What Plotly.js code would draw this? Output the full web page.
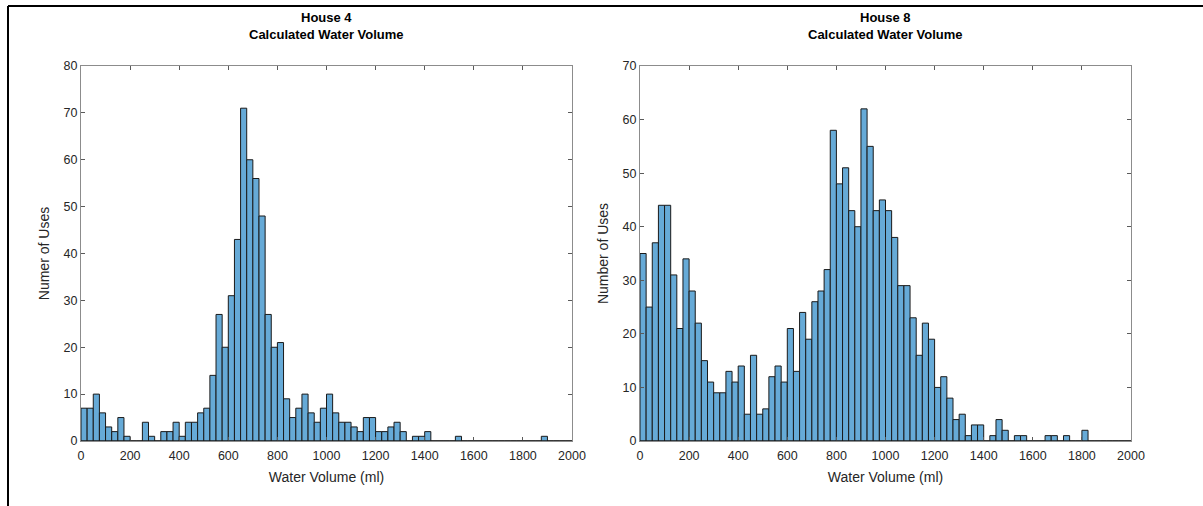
<!DOCTYPE html>
<html>
<head>
<meta charset="utf-8">
<script src="https://cdn.plot.ly/plotly-3.0.1.min.js"></script>
<style>html,body{margin:0;padding:0;background:#fff;}#chart{width:1203px;height:506px;}</style>
</head>
<body>
<div id="chart"></div>
<script>
// Histogram bin counts, 80 bins of 25 ml from 0 to 2000 ml
const binWidth = 25;
const house4Counts = [7,7,10,6,3,2,5,1,0,0, 4,1,0,2,2,4,1,4,4,6, 7,14,27,20,31,43,71,60,56,48,
  27,20,21,9,5,7,10,6,4,7, 10,6,4,4,3,2,5,5,2,2, 3,4,2,0,1,1,2,0,0,0, 0,1,0,0,0,0,0,0,0,0,
  0,0,0,0,0,1,0,0,0,0];
const house8Counts = [35,25,37,44,44,31,21,34,28,22, 15,11,9,9,13,11,14,5,16,5, 6,12,14,11,21,13,24,19,26,28,
  32,58,48,51,43,40,62,55,43,45, 43,38,29,29,23,16,22,19,10,12, 8,4,5,1,3,3,0,1,4,2,
  0,1,1,0,0,0,1,1,0,1, 0,0,2,0,0,0,0,0,0,0];
const panelTitles = ["House 4<br>Calculated Water Volume", "House 8<br>Calculated Water Volume"];
const xTitle = "Water Volume (ml)";
const yTitles = ["Numer of Uses", "Number of Uses"];
const xTickVals = [0,200,400,600,800,1000,1200,1400,1600,1800,2000];
const yRanges = [[0,80],[0,70]];

const binCenters = house4Counts.map((_, i) => i * binWidth + binWidth / 2);
const barFill = '#66AAD7';

const traces = [
  {type:'bar', x:binCenters, y:house4Counts, width:binWidth, xaxis:'x', yaxis:'y',
   marker:{color:barFill, line:{color:'#1a1a1a', width:1}}, hoverinfo:'x+y'},
  {type:'bar', x:binCenters, y:house8Counts, width:binWidth, xaxis:'x2', yaxis:'y2',
   marker:{color:barFill, line:{color:'#1a1a1a', width:1}}, hoverinfo:'x+y'}
];

const W = 1203, H = 506;
const yDom = [1 - 441/H, 1 - 66/H];
const axCommon = {
  showgrid:false, zeroline:false, showline:true, mirror:'ticks',
  linecolor:'#8c8c8c', linewidth:1, ticks:'inside', ticklen:4, tickcolor:'#5a5a5a', tickwidth:1,
  tickfont:{family:'Liberation Sans, Arial, sans-serif', size:12.5, color:'#262626'},
  fixedrange:true
};
function xAxis(dom, anchor){
  return Object.assign({}, axCommon, {domain:dom, anchor:anchor, range:[0,2000],
    tickvals:xTickVals, ticktext:xTickVals.map(String), ticklabelstandoff:3,
    title:{text:xTitle, standoff:10, font:{family:'Liberation Sans, Arial, sans-serif', size:14, color:'#262626'}}});
}
function yAxis(i, anchor){
  return Object.assign({}, axCommon, {domain:yDom, anchor:anchor, range:yRanges[i], dtick:10, tick0:0,
    title:{text:yTitles[i], standoff:10, font:{family:'Liberation Sans, Arial, sans-serif', size:14, color:'#262626'}}});
}

const layout = {
  width:W, height:H, paper_bgcolor:'#fff', plot_bgcolor:'#fff', showlegend:false,
  margin:{l:0, r:0, t:0, b:0}, bargap:0,
  xaxis: xAxis([81/W, 572/W], 'y'),
  yaxis: yAxis(0, 'x'),
  xaxis2: xAxis([640/W, 1131/W], 'y2'),
  yaxis2: yAxis(1, 'x2'),
  annotations: [
    {text:panelTitles[0], xref:'paper', yref:'paper', x:(81+572)/2/W, y:1-26/H, xanchor:'center', yanchor:'middle',
     showarrow:false, font:{family:'Liberation Sans, Arial, sans-serif', size:13, color:'#000'}, align:'center'},
    {text:panelTitles[1], xref:'paper', yref:'paper', x:(640+1131)/2/W, y:1-26/H, xanchor:'center', yanchor:'middle',
     showarrow:false, font:{family:'Liberation Sans, Arial, sans-serif', size:13, color:'#000'}, align:'center'}
  ],
  shapes: [
    {type:'line', xref:'x', yref:'y', x0:0, x1:2000, y0:0, y1:0, line:{color:'#1a1a1a', width:1}, layer:'above'},
    {type:'line', xref:'x2', yref:'y2', x0:0, x1:2000, y0:0, y1:0, line:{color:'#1a1a1a', width:1}, layer:'above'},
    {type:'line', xref:'paper', yref:'paper', x0:8/W, x1:1, y0:1-6/H, y1:1-6/H, line:{color:'#000', width:2}},
    {type:'line', xref:'paper', yref:'paper', x0:8/W, x1:8/W, y0:0, y1:1-6/H, line:{color:'#000', width:2}}
  ]
};
// bold titles
layout.annotations.forEach(a => { a.text = a.text.split('<br>').map(s => '<b>' + s + '</b>').join('<br>'); });

Plotly.newPlot('chart', traces, layout, {displayModeBar:false, staticPlot:true});
</script>
</body>
</html>
